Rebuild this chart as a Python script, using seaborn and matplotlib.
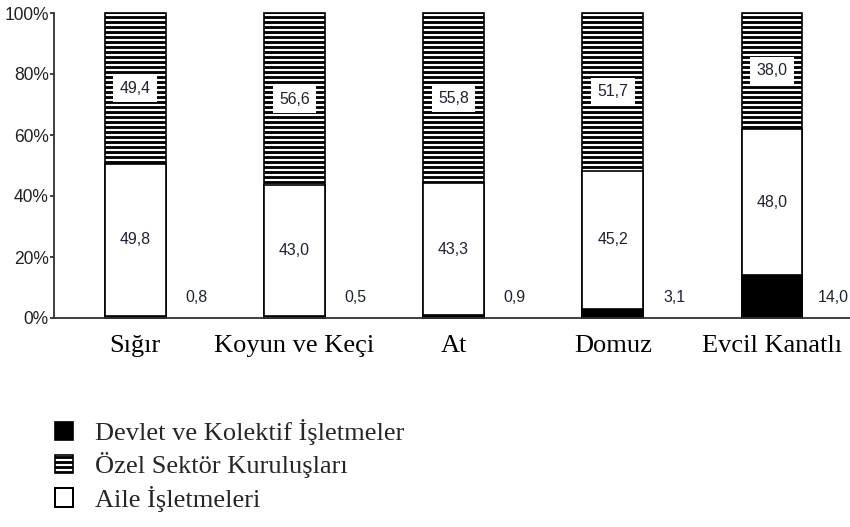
import matplotlib
matplotlib.use("Agg")
import matplotlib.pyplot as plt
import seaborn as sns
import numpy as np
from matplotlib.patches import Patch

# ---- data ----
categories = ["Sığır", "Koyun ve Keçi", "At", "Domuz", "Evcil Kanatlı"]
devlet = [0.8, 0.5, 0.9, 3.1, 14.0]
aile = [49.8, 43.0, 43.3, 45.2, 48.0]
ozel = [49.4, 56.6, 55.8, 51.7, 38.0]
series_names = ["Devlet ve Kolektif İşletmeler", "Özel Sektör Kuruluşları", "Aile İşletmeleri"]
yticks = [0, 20, 40, 60, 80, 100]

sns.set_theme(style="white")
plt.rcParams["hatch.linewidth"] = 1.7
plt.rcParams["font.family"] = ["Liberation Sans", "DejaVu Sans"]

DPI = 120
W, H = 850, 527
fig = plt.figure(figsize=(W / DPI, H / DPI), dpi=DPI)
fig.patch.set_facecolor("white")
ax = fig.add_axes([54 / W, (H - 318) / H, 1 - 54 / W, (318 - 13) / H])

dv = np.array(devlet)
ai = np.array(aile)
oz = np.array(ozel)
cum_aile = dv + ai
cum_total = dv + ai + oz

bar_w = 0.383
common = dict(ax=ax, width=bar_w, saturation=1, errorbar=None,
              edgecolor="black", linewidth=1.0)

sns.barplot(x=categories, y=cum_total, color="white", hatch="----", **common)
sns.barplot(x=categories, y=cum_aile, color="white", **common)
sns.barplot(x=categories, y=dv, color="black", **common)

for p in ax.patches:
    p.set_clip_on(False)

ax.set_xlim(-0.51, 4.49)
ax.set_ylim(0, 100)

fmt = lambda v: f"{v:.1f}".replace(".", ",")
txt_color = "#1e2233"
for i in range(len(categories)):
    ax.text(i, dv[i] + ai[i] / 2, fmt(ai[i]), ha="center", va="center",
            fontsize=9.5, color=txt_color)
    ax.text(i, cum_aile[i] + oz[i] / 2, fmt(oz[i]), ha="center", va="center",
            fontsize=9.5, color=txt_color,
            bbox=dict(boxstyle="square,pad=0.4", facecolor="white", edgecolor="none"))
    ax.text(i + 0.385, 6.8, fmt(dv[i]), ha="center", va="center",
            fontsize=9.5, color=txt_color)

ax.set_yticks(yticks)
ax.set_yticklabels([f"{t}%" for t in yticks], fontsize=10.5, color="#222222")
ax.tick_params(axis="y", length=2.5, width=1.0, pad=0.5, direction="out", left=True, colors="#222222")
ax.tick_params(axis="x", length=0, pad=10)
for lab in ax.get_xticklabels():
    lab.set_fontfamily("Liberation Serif")
    lab.set_fontsize(15.8)
    lab.set_color("black")

ax.set_xlabel("")
ax.set_ylabel("")
for s in ["top", "right"]:
    ax.spines[s].set_visible(False)
for s in ["left", "bottom"]:
    ax.spines[s].set_color("#333333")
    ax.spines[s].set_linewidth(1.1)

handles = [
    Patch(facecolor="black", edgecolor="black", linewidth=1.0),
    Patch(facecolor="white", edgecolor="black", hatch="----", linewidth=1.0),
    Patch(facecolor="white", edgecolor="black", linewidth=1.2),
]
leg = fig.legend(handles, series_names, loc="upper left",
                 bbox_to_anchor=(55 / W, (H - 419) / H), frameon=False,
                 prop={"family": "Liberation Serif", "size": 15.8},
                 handlelength=0.68, handleheight=0.68, handletextpad=0.85,
                 labelspacing=0.28, borderpad=0, borderaxespad=0)

fig.savefig("out.png", dpi=DPI, facecolor="white")
